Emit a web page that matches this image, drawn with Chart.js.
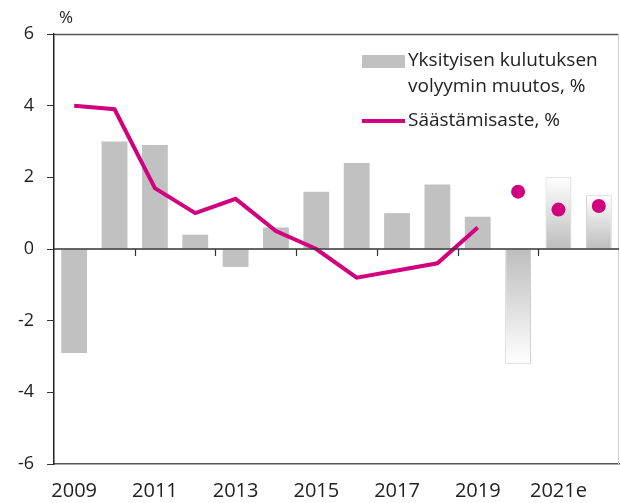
<!DOCTYPE html>
<html>
<head>
<meta charset="utf-8">
<script src="https://cdn.jsdelivr.net/npm/chart.js@4"></script>
<style>
  html, body { margin: 0; padding: 0; background: #fff; overflow: hidden; }
  #wrap { width: 626px; height: 503px; position: relative; }
  canvas { display: block; }
</style>
</head>
<body>
<div id="wrap"><canvas id="kulutusChart"></canvas></div>
<script>
const years = ["2009", "2010", "2011", "2012", "2013", "2014", "2015", "2016", "2017", "2018", "2019", "2020e", "2021e", "2022e"];
const kulutus = [-2.9, 3.0, 2.9, 0.4, -0.5, 0.6, 1.6, 2.4, 1.0, 1.8, 0.9, -3.2, 2.0, 1.5];
const saastamisaste = [4.0, 3.9, 1.7, 1.0, 1.4, 0.5, 0.0, -0.8, -0.6, -0.4, 0.6, null, null, null];
const saastamisEnnuste = [null, null, null, null, null, null, null, null, null, null, null, 1.6, 1.1, 1.2];
const ennusteAlkaa = 11; // 2020e index
const yTicks = [-6, -4, -2, 0, 2, 4, 6];

const GRAY = "#c1c1c1";
const MAGENTA = "#d2007e";
const FONT = "'Open Sans', sans-serif";

function barFill(ctx) {
  const i = ctx.dataIndex;
  if (i < ennusteAlkaa) return GRAY;
  const chart = ctx.chart;
  const y = chart.scales.y;
  if (!chart.chartArea || !y) return GRAY;
  const y0 = y.getPixelForValue(0);
  const y1 = y.getPixelForValue(kulutus[i]);
  const g = chart.ctx.createLinearGradient(0, y0, 0, y1);
  g.addColorStop(0, "#bdbdbd");
  g.addColorStop(1, "#ffffff");
  return g;
}

// zero line, x ticks, box edges, "%" and the legend
const extras = {
  id: "extras",
  afterDatasetsDraw(chart) {
    const { ctx, chartArea: a, scales } = chart;
    const zero = scales.y.getPixelForValue(0);
    ctx.save();
    // top + right border
    ctx.strokeStyle = "#555";
    ctx.lineWidth = 1.5;
    ctx.beginPath();
    ctx.moveTo(a.left, a.top + 0.5);
    ctx.lineTo(a.right, a.top + 0.5);
    ctx.stroke();
    ctx.strokeStyle = "#d0d0d0";
    ctx.lineWidth = 1;
    ctx.beginPath();
    ctx.moveTo(a.right - 0.5, a.top);
    ctx.lineTo(a.right - 0.5, a.bottom);
    ctx.stroke();
    // zero line
    ctx.strokeStyle = "#333";
    ctx.lineWidth = 1.5;
    ctx.beginPath();
    ctx.moveTo(a.left, zero);
    ctx.lineTo(a.right, zero);
    ctx.stroke();
    // ticks between every second category
    const x = scales.x;
    ctx.lineWidth = 1.2;
    for (let i = 1; i < years.length - 1; i += 2) {
      const px = Math.round((x.getPixelForValue(i) + x.getPixelForValue(i + 1)) / 2) + 0.5;
      ctx.beginPath();
      ctx.moveTo(px, zero);
      ctx.lineTo(px, zero + 7);
      ctx.stroke();
    }
    // % label
    ctx.fillStyle = "#222";
    ctx.font = "17px " + FONT;
    ctx.textAlign = "center";
    ctx.textBaseline = "middle";
    ctx.fillText("%", a.left + 12, 18);
    // legend
    const lx = a.left + 308;
    ctx.fillStyle = GRAY;
    ctx.fillRect(lx, a.top + 21, 43, 13);
    ctx.strokeStyle = MAGENTA;
    ctx.lineWidth = 4;
    ctx.beginPath();
    ctx.moveTo(lx, a.top + 87);
    ctx.lineTo(lx + 43, a.top + 87);
    ctx.stroke();
    ctx.fillStyle = "#222";
    ctx.font = "19px " + FONT;
    ctx.textAlign = "left";
    ctx.fillText("Yksityisen kulutuksen", lx + 46, a.top + 27);
    ctx.fillText("volyymin muutos, %", lx + 46, a.top + 53);
    ctx.fillText("Säästämisaste, %", lx + 46, a.top + 87);
    ctx.restore();
  }
};

const ctx = document.getElementById("kulutusChart").getContext("2d");
new Chart(ctx, {
  type: "bar",
  data: {
    labels: years,
    datasets: [
      {
        type: "line",
        label: "Säästämisaste, %",
        data: saastamisaste,
        borderColor: MAGENTA,
        borderWidth: 4,
        pointRadius: 0,
        tension: 0,
        spanGaps: false,
        order: 1
      },
      {
        type: "line",
        label: "Säästämisaste, % (ennuste)",
        data: saastamisEnnuste,
        showLine: false,
        pointRadius: 7,
        pointBackgroundColor: MAGENTA,
        pointBorderWidth: 0,
        order: 0
      },
      {
        label: "Yksityisen kulutuksen volyymin muutos, %",
        data: kulutus,
        backgroundColor: barFill,
        borderColor: (c) => c.dataIndex >= ennusteAlkaa ? "#cfcfcf" : GRAY,
        borderWidth: (c) => c.dataIndex >= ennusteAlkaa ? 1 : 0,
        borderSkipped: "start",
        categoryPercentage: 1,
        barPercentage: 0.64,
        order: 2
      }
    ]
  },
  options: {
    responsive: true,
    maintainAspectRatio: false,
    animation: false,
    layout: { padding: { top: 34, right: 1, left: 0, bottom: 0 } },
    plugins: {
      legend: { display: false },
      tooltip: { enabled: false }
    },
    scales: {
      x: {
        afterFit: (s) => { s.height = 39; },
        grid: { display: false, drawTicks: false },
        border: { display: true, color: "#555", width: 1.5 },
        ticks: {
          autoSkip: false,
          maxRotation: 0,
          padding: 15,
          color: "#222",
          font: { family: FONT, size: 20 },
          callback: (v, i) => i % 2 === 0 ? years[i] : ""
        }
      },
      y: {
        min: -6,
        max: 6,
        afterBuildTicks: (s) => { s.ticks = yTicks.map(v => ({ value: v })); },
        afterFit: (s) => { s.width = 54; },
        grid: { display: true, drawOnChartArea: false, drawTicks: true, tickLength: 7, color: "#333" },
        border: { display: true, color: "#222", width: 1.5 },
        ticks: {
          padding: 13,
          color: "#222",
          font: { family: FONT, size: 18 }
        }
      }
    }
  },
  plugins: [extras]
});
</script>
</body>
</html>
